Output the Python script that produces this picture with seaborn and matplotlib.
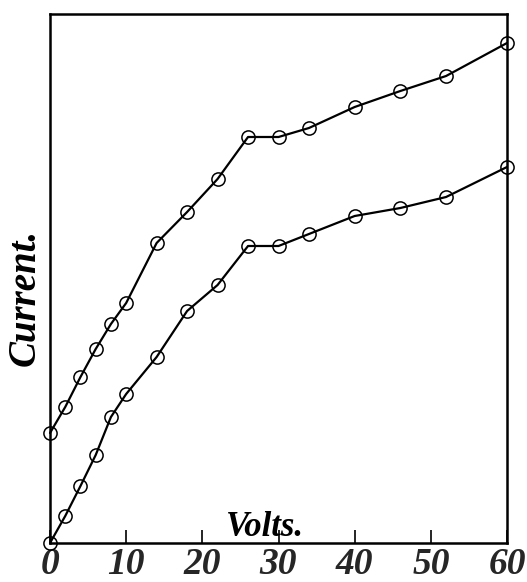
import matplotlib
matplotlib.use("Agg")
import matplotlib.pyplot as plt
import seaborn as sns
import pandas as pd

sns.set_theme(style="white")
plt.rcParams['font.family'] = ['Liberation Serif', 'DejaVu Serif']

# Data (current in arbitrary units)
volts = [0, 2, 4, 6, 8, 10, 14, 18, 22, 26, 30, 34, 40, 46, 52, 60]
upper_current = [11.0, 13.6, 16.6, 19.4, 21.9, 24.0, 30.0, 33.1, 36.4, 40.6, 40.6, 41.5, 43.6, 45.2, 46.7, 50.0]
lower_current = [0.0, 2.7, 5.7, 8.8, 12.6, 14.9, 18.6, 23.2, 25.8, 29.7, 29.7, 30.9, 32.7, 33.5, 34.6, 37.6]
x_ticks = [0, 10, 20, 30, 40, 50, 60]
x_tick_labels = ["0", "10", "20", "30", "40", "50", "60"]

df = pd.concat([
    pd.DataFrame({"Volts": volts, "Current": upper_current, "curve": "upper"}),
    pd.DataFrame({"Volts": volts, "Current": lower_current, "curve": "lower"}),
])

fig = plt.figure(figsize=(5.27, 5.82), dpi=100)
ax = fig.add_axes([50/527, 39/582, 457/527, 529/582])

for name in ["upper", "lower"]:
    sub = df[df["curve"] == name]
    sns.lineplot(data=sub, x="Volts", y="Current", ax=ax, color="black",
                 linewidth=1.6, marker="o", markersize=9.5,
                 markerfacecolor="none", markeredgecolor="black",
                 markeredgewidth=1.1, legend=False, clip_on=False)

ax.set_xlim(0, 60)
ax.set_ylim(0, 52.9)
ax.set_xticks(x_ticks)
ax.set_xticklabels(x_tick_labels, fontsize=27, fontweight="bold", fontstyle="italic")
ax.set_yticks([])
ax.tick_params(axis="x", direction="in", length=9.5, width=1.2, color="black", pad=3, bottom=True)
ax.set_xlabel("")
ax.set_ylabel("")
for sp in ax.spines.values():
    sp.set_color("black")
    sp.set_linewidth(1.8)
    sp.set_visible(True)

ax.text(28.2, 1.5, "Volts.", fontsize=25, fontweight="bold", fontstyle="italic",
        ha="center", va="center", color="black")
fig.text(25/527, 1 - 297/582, "Current.", fontsize=28, fontweight="bold",
         fontstyle="italic", rotation=90, ha="center", va="center", color="black")

fig.savefig("out.png", dpi=100, facecolor="white")
